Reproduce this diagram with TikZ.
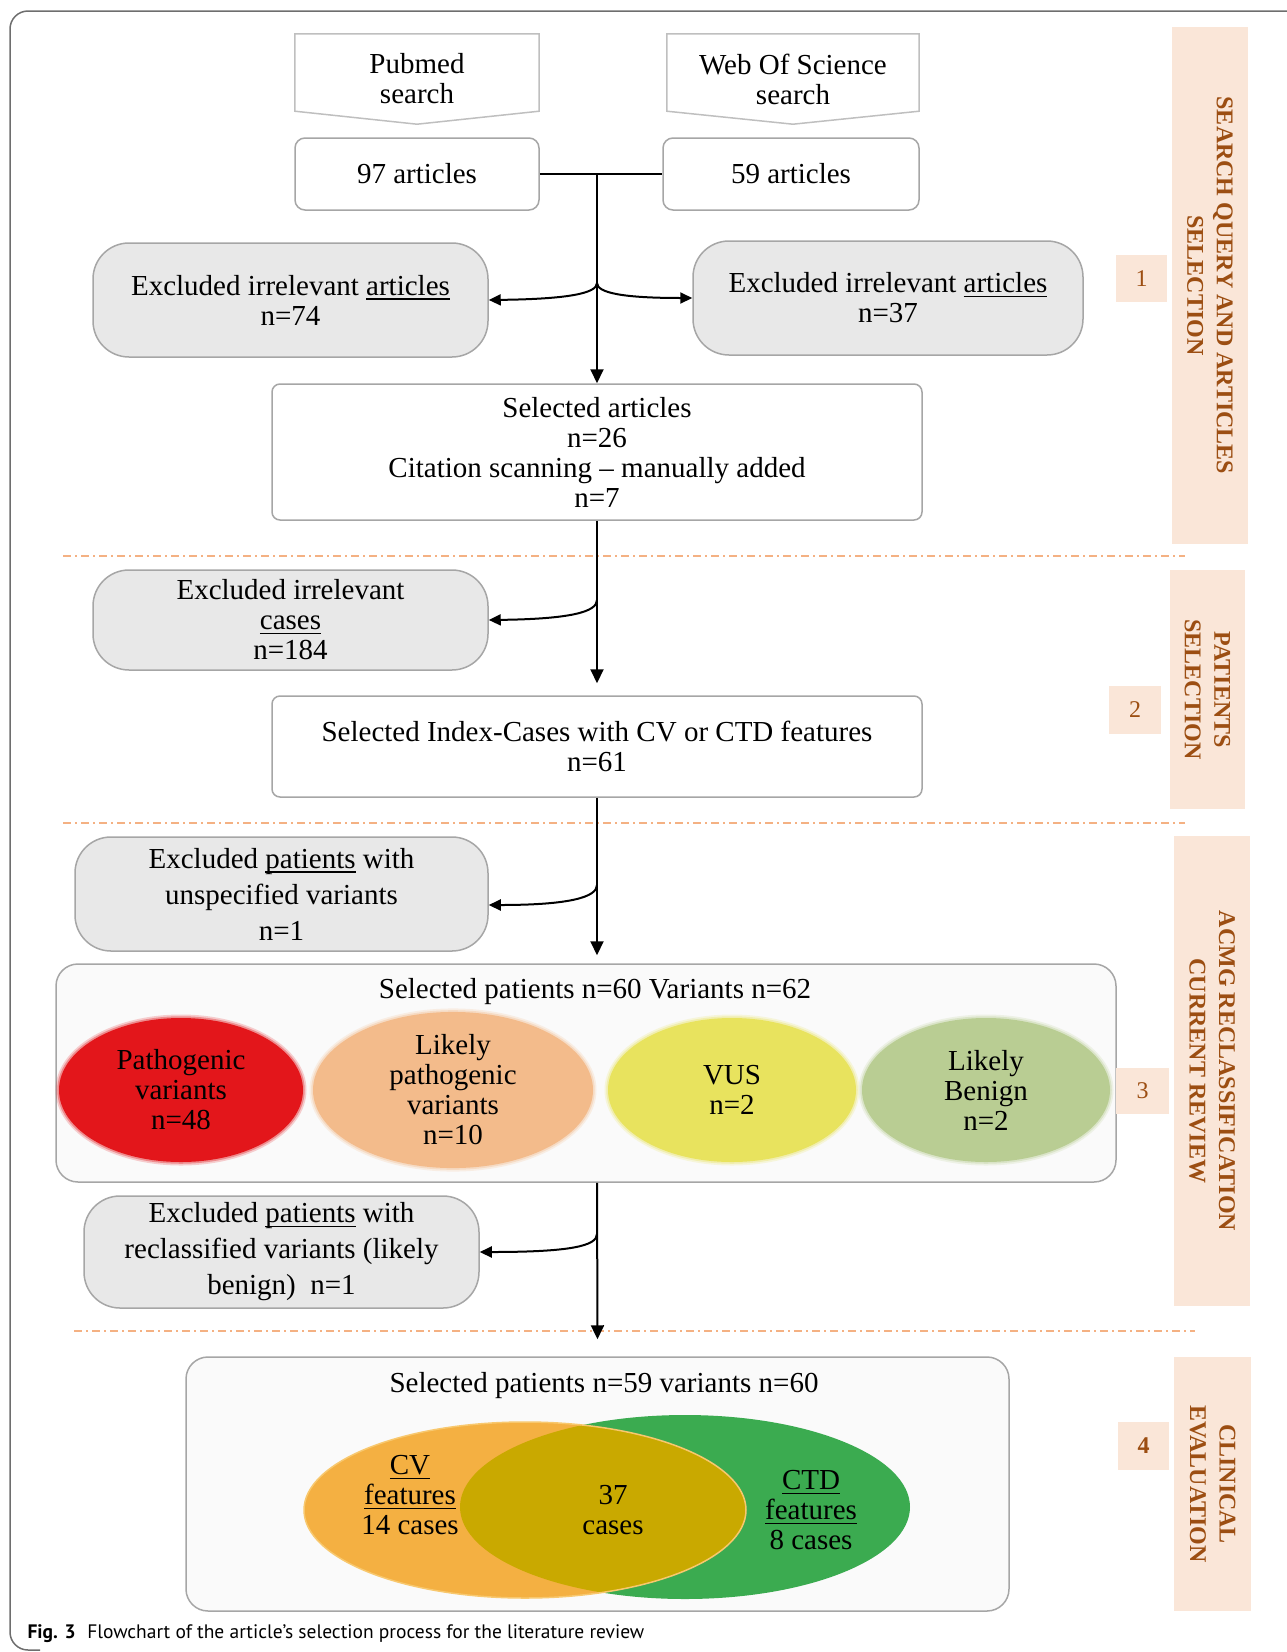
\documentclass[tikz,border=0pt]{standalone}
\usepackage{fontspec}
\setmainfont{Liberation Serif}
\newfontfamily\capfont{PT Sans}
\usetikzlibrary{arrows.meta,shapes.geometric}

\definecolor{framegray}{RGB}{110,110,110}
\definecolor{boxgray}{RGB}{166,166,166}
\definecolor{pentgray}{RGB}{191,191,191}
\definecolor{exgray}{RGB}{232,232,232}
\definecolor{peach}{RGB}{250,230,216}
\definecolor{sectbrown}{RGB}{156,78,18}
\definecolor{dashorange}{RGB}{244,177,131}
\definecolor{pathored}{RGB}{227,22,27}
\definecolor{lpathorange}{RGB}{243,187,139}
\definecolor{vusyellow}{RGB}{232,227,94}
\definecolor{benigngreen}{RGB}{185,205,147}
\definecolor{cvorange}{RGB}{244,176,66}
\definecolor{cvedge}{RGB}{248,200,110}
\definecolor{ctdgreen}{RGB}{59,171,80}
\definecolor{overlapgold}{RGB}{201,169,0}
\newcommand{\boxfont}{\fontsize{29}{30}\selectfont}
\newcommand{\loosefont}{\fontsize{29}{36}\selectfont}
\newcommand{\ulword}[1]{\setbox0\hbox{#1}\rlap{\rule[-4.5pt]{\wd0}{1.3pt}}\box0\relax}

\tikzset{
  pentbox/.style={inner sep=0pt, align=center, font=\boxfont},
  numbox/.style={draw=boxgray, line width=1.5pt, rounded corners=10pt, fill=white,
    inner sep=0pt, align=center, font=\boxfont},
  exbox/.style={draw=boxgray, line width=1.5pt, rounded corners=36pt, fill=exgray,
    inner sep=0pt, align=center, font=\boxfont},
  selbox/.style={draw=boxgray, line width=1.5pt, rounded corners=8pt, fill=white,
    inner sep=0pt, align=center, font=\boxfont},
  groupbox/.style={draw=boxgray, line width=1.5pt, rounded corners=22pt, fill=black!2,
    inner sep=0pt},
  secbox/.style={fill=peach, inner sep=0pt, align=center, rotate=-90,
    text=sectbrown, font=\fontsize{24}{29.5}\selectfont\bfseries},
  stagebox/.style={fill=peach, inner sep=0pt, text=sectbrown,
    font=\fontsize{24}{24}\selectfont},
  varblob/.style={ellipse, inner sep=0pt, align=center, font=\boxfont, fill=#1,
    preaction={draw=#1, line width=7pt, draw opacity=0.2},
    preaction={draw=#1, line width=3.5pt, draw opacity=0.35}},
  phaseline/.style={dashorange, line width=1.5pt, dash pattern=on 8pt off 4pt on 2pt off 4pt},
  flow/.style={line width=2pt},
  downarr/.style={line width=2pt, -{Triangle[length=14pt,width=13pt]}},
  sidearr/.style={line width=2pt, -{Triangle[length=12pt,width=11pt]}}
}

\begin{document}
\begin{tikzpicture}[x=1pt,y=-1pt]
    \useasboundingbox (0,0) rectangle (1287,1652);
    \draw[framegray, line width=1.5pt, rounded corners=18pt] (1287,11) -- (10,11) -- (10,1650) -- (40,1650);

    % search queries
    \node (pubmed) [pentbox, minimum width=244pt, minimum height=90pt] at (417,79) {Pubmed\\search};
    \node (wos) [pentbox, minimum width=252pt, minimum height=90pt] at (793,79) {Web Of Science\\search};
    \foreach \q in {pubmed,wos}
        \draw[pentgray, line width=1.5pt] (\q.north west) -- (\q.north east) -- ([yshift=13pt]\q.south east)
            -- (\q.south) -- ([yshift=13pt]\q.south west) -- cycle;

    \node (art97) [numbox, minimum width=244pt, minimum height=72pt] at (417,174) {97 articles};
    \node (art59) [numbox, minimum width=256pt, minimum height=72pt] at (791,174) {59 articles};

    \node (exart1) [exbox, minimum width=395pt, minimum height=114pt] at (290.5,300) {Excluded irrelevant \ulword{articles}\\n=74};
    \node (exart2) [exbox, minimum width=390pt, minimum height=114pt] at (888,298) {Excluded irrelevant \ulword{articles}\\n=37};

    \node (selart) [selbox, minimum width=650pt, minimum height=136pt] at (597,452)
        {Selected articles\\n=26\\Citation scanning -- manually added\\n=7};

    % patients
    \node (excases) [exbox, minimum width=395pt, minimum height=100pt] at (290.5,620) {Excluded irrelevant\\\ulword{cases}\\n=184};
    \node (selidx) [selbox, minimum width=650pt, minimum height=101pt] at (597,746.5)
        {Selected Index-Cases with CV or CTD features\\n=61};

    % ACMG
    \node (exunspec) [exbox, font=\loosefont, minimum width=413pt, minimum height=114pt] at (281.5,894)
        {Excluded \ulword{patients} with\\unspecified variants\\n=1};
    \node (varbox) [groupbox, minimum width=1060pt, minimum height=218pt] at (586,1073) {};
    \node (vartitle) [font=\boxfont] at (595,992) {Selected patients n=60 Variants n=62};
    \node (patho) [varblob=pathored, minimum width=244pt, minimum height=144pt] at (181,1090) {Pathogenic\\variants\\n=48};
    \node (lpatho) [varblob=lpathorange, minimum width=280pt, minimum height=144pt] at (453,1090) {Likely\\pathogenic\\variants\\n=10};
    \node (vus) [varblob=vusyellow, minimum width=248pt, minimum height=144pt] at (732,1090) {VUS\\n=2};
    \node (lbenign) [varblob=benigngreen, minimum width=248pt, minimum height=144pt] at (986,1090) {Likely\\Benign\\n=2};
    \node (exreclass) [exbox, font=\loosefont, minimum width=395pt, minimum height=112pt] at (281.5,1252)
        {Excluded \ulword{patients} with\\reclassified variants (likely\\benign)~~n=1};

    % clinical evaluation
    \node (venbox) [groupbox, minimum width=823pt, minimum height=254pt] at (597.5,1484) {};
    \node (ventitle) [font=\boxfont] at (604,1386) {Selected patients n=59 variants n=60};
    \fill[ctdgreen] (685,1507) ellipse [x radius=225, y radius=92];
    \fill[cvorange] (525,1510) ellipse [x radius=221, y radius=88];
    \begin{scope}
        \clip (685,1507) ellipse [x radius=225, y radius=92];
        \fill[overlapgold] (525,1510) ellipse [x radius=221, y radius=88];
    \end{scope}
    \draw[cvedge, line width=1.5pt] (525,1510) ellipse [x radius=221, y radius=88];
    \node (cvtext) [font=\boxfont, align=center] at (410,1495) {\ulword{CV}\\\ulword{features}\\14 cases};
    \node (bothtext) [font=\boxfont, align=center] at (613,1510) {37\\cases};
    \node (ctdtext) [font=\boxfont, align=center] at (811,1510) {\ulword{CTD}\\\ulword{features}\\8 cases};

    % phase separators
    \draw[phaseline] (63,556) -- (1185,556);
    \draw[phaseline] (63,823) -- (1185,823);
    \draw[phaseline] (74,1331) -- (1195,1331);

    % connectors
    \coordinate (join0) at (597,174);
    \coordinate (join1) at (597,283);
    \coordinate (join2) at (597,600);
    \coordinate (join3) at (597,885);
    \coordinate (join4) at (597,1234);
    \draw[flow] (art97.east) -- (art59.west);
    \draw[downarr] (join0) -- (selart.north);
    \draw[sidearr] (join1) .. controls (597,293) and (570,299) .. (exart1.east);
    \draw[sidearr] (join1) .. controls (597,293) and (624,298) .. (exart2.west);
    \draw[downarr] (selart.south) -- ([yshift=12pt]selidx.north);
    \draw[sidearr] (join2) .. controls (597,612) and (570,619) .. (excases.east);
    \draw[downarr] (selidx.south) -- ([yshift=8pt]selidx.south |- varbox.north);
    \draw[sidearr] (join3) .. controls (597,897) and (570,905) .. ([yshift=-11pt]exunspec.east);
    \draw[downarr] (selidx.south |- varbox.south) -- ([yshift=17pt]venbox.north);
    \draw[sidearr] (join4) .. controls (597,1246) and (570,1252) .. (exreclass.east);

    % phase labels
    \node (phase1) [secbox, minimum width=517pt, minimum height=76pt] at (1210,285.5) {SEARCH QUERY AND ARTICLES\\SELECTION};
    \node (phase2) [secbox, minimum width=239pt, minimum height=75pt] at (1207.5,689.5) {PATIENTS\\SELECTION};
    \node (phase3) [secbox, minimum width=470pt, minimum height=76pt] at (1212,1071) {ACMG RECLASSIFICATION\\CURRENT REVIEW};
    \node (phase4) [secbox, minimum width=254pt, minimum height=77pt] at (1212.5,1484) {CLINICAL\\EVALUATION};
    \node (stage1) [stagebox, minimum width=51pt, minimum height=47pt] at (1141.5,278.5) {1};
    \node (stage2) [stagebox, minimum width=52pt, minimum height=48pt] at (1135,710) {2};
    \node (stage3) [stagebox, minimum width=53pt, minimum height=46pt] at (1142.5,1091) {3};
    \node (stage4) [stagebox, minimum width=51pt, minimum height=48pt] at (1143.5,1446) {\bfseries 4};

    \node (caption) [anchor=west, font=\capfont\fontsize{19.5}{24}\selectfont] at (24,1634)
        {\textbf{Fig. 3}\hspace{0.6em}Flowchart of the article’s selection process for the literature review};
\end{tikzpicture}
\end{document}
